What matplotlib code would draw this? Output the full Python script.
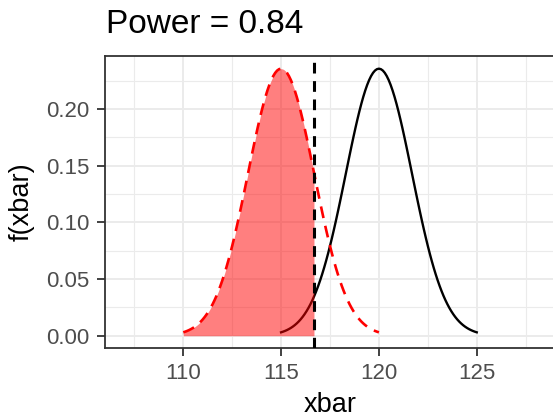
import numpy as np
import matplotlib
matplotlib.use('Agg')
import matplotlib.pyplot as plt

# Параметры
null_mean = 120.0        # H0 (чёрная кривая)
alt_mean = 115.0         # H1 (красная пунктирная)
std_err = 1.693          # пик ~0.2357
crit_value = 116.68      # вертикальная пунктирная линия
null_range = [115.0, 125.0]
alt_range = [110.0, 120.0]
power_text = 'Power = 0.84'

x_ticks = [110, 115, 120, 125]
y_ticks = [0.00, 0.05, 0.10, 0.15, 0.20]
y_tick_labels = ['0.00', '0.05', '0.10', '0.15', '0.20']


def density(x, mean, sd):
    return np.exp(-0.5 * ((x - mean) / sd) ** 2) / (sd * np.sqrt(2 * np.pi))


plt.rcParams['font.family'] = ['Liberation Sans', 'DejaVu Sans']

fig = plt.figure(figsize=(5.53, 4.18), dpi=100)
ax = fig.add_axes([105 / 553, 1 - 348.3 / 418, 450 / 553, 292.6 / 418])

x_null = np.linspace(null_range[0], null_range[1], 101)
x_alt = np.linspace(alt_range[0], alt_range[1], 101)
x_fill = np.linspace(alt_range[0], crit_value, 101)

ax.plot(x_null, density(x_null, null_mean, std_err), color='black', lw=1.7, zorder=3)
ax.fill_between(x_fill, 0, density(x_fill, alt_mean, std_err),
                color='red', alpha=0.5, lw=0, zorder=4)
ax.plot(x_alt, density(x_alt, alt_mean, std_err), color='red', lw=1.9,
        dashes=(4.5, 3), zorder=5)
ax.axvline(crit_value, color='black', lw=2.2, dashes=(3.5, 2.5), zorder=6)

ax.set_xlim(106.0, 129.0)
ax.set_ylim(-0.0111, 0.2471)
ax.set_xticks(x_ticks)
ax.set_xticks(np.arange(107.5, 130, 5), minor=True)
ax.set_yticks(y_ticks)
ax.set_yticklabels(y_tick_labels)
ax.set_yticks(np.arange(0.025, 0.25, 0.05), minor=True)

ax.grid(True, which='major', color='#EBEBEB', lw=1.4)
ax.grid(True, which='minor', color='#EBEBEB', lw=0.8)
ax.set_axisbelow(True)

for side in ['left', 'top', 'bottom']:
    ax.spines[side].set_color('#333333')
    ax.spines[side].set_linewidth(1.3)
ax.spines['right'].set_visible(False)

ax.tick_params(which='major', length=5.5, width=1.3, color='#333333',
               labelsize=16, labelcolor='#4D4D4D', pad=5)
ax.tick_params(axis='y', which='major', pad=6)
ax.tick_params(which='minor', length=0)

ax.set_xlabel('xbar', fontsize=19.5, labelpad=5.5)
ax.set_ylabel('f(xbar)', fontsize=19.5, labelpad=8)

fig.text(106 / 553, 1 - 33.3 / 418, power_text, fontsize=24, va='baseline', ha='left')

fig.savefig('out.png', dpi=100)
